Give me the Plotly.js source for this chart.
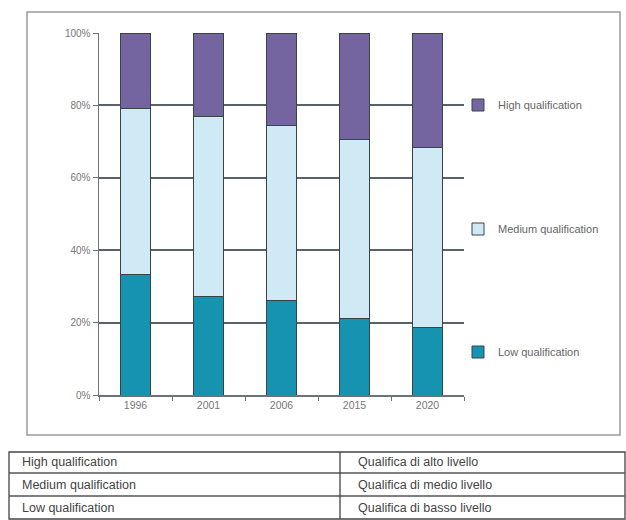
<!DOCTYPE html>
<html>
<head>
<meta charset="utf-8">
<script src="https://cdn.plot.ly/plotly-3.0.1.min.js"></script>
<style>html,body{margin:0;padding:0;background:#fff;}#chart{width:626px;height:520px;}</style>
</head>
<body>
<div id="chart"></div>
<script>
const years = ['1996', '2001', '2006', '2015', '2020'];
const lowQual = [33.2, 27.3, 26.0, 21.0, 18.7];
const mediumQual = [46.0, 49.6, 48.5, 49.6, 49.6];
const highQual = [20.8, 23.1, 25.5, 29.4, 31.7];
const seriesNames = ['Low qualification', 'Medium qualification', 'High qualification'];
const seriesColors = ['#1593b0', '#cfe9f5', '#7464a0'];
const tableEnglish = ['High qualification', 'Medium qualification', 'Low qualification'];
const tableItalian = ['Qualifica di alto livello', 'Qualifica di medio livello', 'Qualifica di basso livello'];

const W = 626, H = 520;
const M = {l: 99, r: 162, t: 33, b: 125};
const pw = W - M.l - M.r, ph = H - M.t - M.b;
const px = x => (x - M.l) / pw;
const py = y => (H - M.b - y) / ph;

const series = [lowQual, mediumQual, highQual];
const legendIds = ['legend3', 'legend2', 'legend'];
const traces = series.map((vals, i) => ({
  type: 'bar',
  x: years,
  y: vals,
  name: seriesNames[i],
  legend: legendIds[i],
  showlegend: true,
  marker: {color: seriesColors[i], line: {color: '#3a4448', width: 1}},
  hoverinfo: 'skip'
}));

const legendBase = {
  xanchor: 'left', yanchor: 'middle', bgcolor: 'rgba(0,0,0,0)',
  font: {family: 'Liberation Sans, Arial, sans-serif', size: 11, color: '#666'},
  itemwidth: 30, visible: true
};
const legendY = [105, 229, 352];

const shapes = [];
const annotations = [];
// outer chart frame
shapes.push({type: 'rect', xref: 'paper', yref: 'paper', x0: px(27), x1: px(620), y0: py(12), y1: py(435), line: {color: '#9a9a9a', width: 1.5}});
// table
const tL = 9, tM = 340, tR = 625;
const rows = [452, 473, 496, 519];
shapes.push({type: 'rect', xref: 'paper', yref: 'paper', x0: px(tL), x1: px(tR), y0: py(rows[0]), y1: py(rows[3]), line: {color: '#444', width: 1.3}});
for (let r = 1; r < 3; r++) {
  shapes.push({type: 'line', xref: 'paper', yref: 'paper', x0: px(tL), x1: px(tR), y0: py(rows[r]), y1: py(rows[r]), line: {color: '#555', width: 1.3}});
}
shapes.push({type: 'line', xref: 'paper', yref: 'paper', x0: px(tM), x1: px(tM), y0: py(rows[0]), y1: py(rows[3]), line: {color: '#444', width: 1.3}});
const tfont = {family: 'Liberation Sans, Arial, sans-serif', size: 12.5, color: '#444'};
for (let r = 0; r < 3; r++) {
  const yc = (rows[r] + rows[r + 1]) / 2;
  annotations.push({xref: 'paper', yref: 'paper', x: px(20), y: py(yc), text: tableEnglish[r], showarrow: false, xanchor: 'left', yanchor: 'middle', font: tfont});
  annotations.push({xref: 'paper', yref: 'paper', x: px(356), y: py(yc), text: tableItalian[r], showarrow: false, xanchor: 'left', yanchor: 'middle', font: tfont});
}

const layout = {
  width: W, height: H,
  margin: M,
  showlegend: true,
  paper_bgcolor: '#fff', plot_bgcolor: '#fff',
  barmode: 'stack',
  bargap: 0.6,
  font: {family: 'Liberation Sans, Arial, sans-serif', size: 10, color: '#666'},
  xaxis: {
    type: 'category', showgrid: false, showline: true, linecolor: '#6a7478', linewidth: 1.5,
    ticks: 'outside', tickson: 'boundaries', ticklen: 4, tickcolor: '#6a7478',
    tickfont: {size: 10.5, color: '#777'}
  },
  yaxis: {
    range: [0, 100], tickvals: [0, 20, 40, 60, 80, 100], ticktext: ['0%', '20%', '40%', '60%', '80%', '100%'],
    showgrid: true, gridcolor: '#56646a', gridwidth: 2,
    showline: true, linecolor: '#6a7478', linewidth: 1.5,
    ticks: 'outside', ticklen: 5, tickcolor: '#6a7478',
    zeroline: false, tickfont: {size: 10, color: '#777'}
  },
  legend: Object.assign({x: px(458), y: py(legendY[0])}, legendBase),
  legend2: Object.assign({x: px(458), y: py(legendY[1])}, legendBase),
  legend3: Object.assign({x: px(458), y: py(legendY[2])}, legendBase),
  shapes: shapes,
  annotations: annotations
};

Plotly.newPlot('chart', traces, layout, {displayModeBar: false, staticPlot: true});
</script>
</body>
</html>
